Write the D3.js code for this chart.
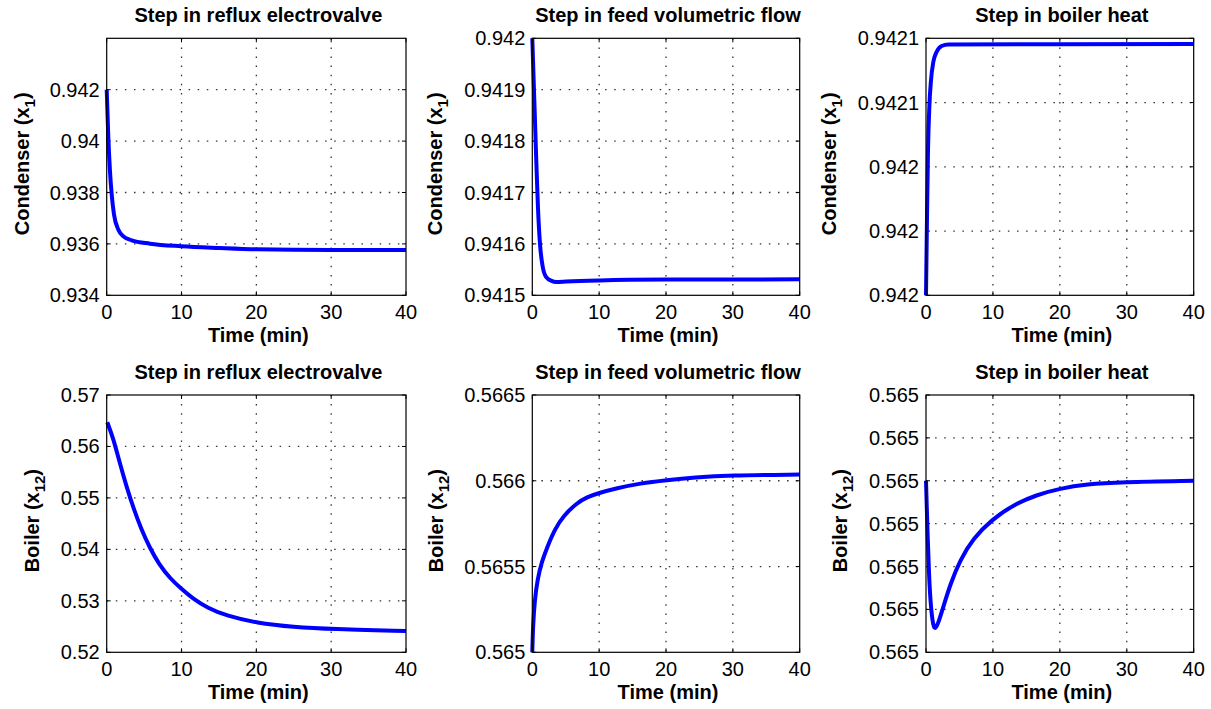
<!DOCTYPE html>
<html><head><meta charset="utf-8">
<script src="https://cdn.jsdelivr.net/npm/d3@7"></script>
<style>body{margin:0;background:#fff}svg{display:block}text{font-family:"Liberation Sans",Arial,Helvetica,sans-serif}</style>
</head><body><svg id="c" width="1211" height="709"></svg>
<script>
// ---- data ----
const titles = ["Step in reflux electrovalve","Step in feed volumetric flow","Step in boiler heat"];
const xTicks = [0,10,20,30,40];

// top row: Condenser x1
const tRefluxX1 = [0,0.22,0.44,0.67,0.98,1.56,2.23,3.34,5.79,10.02,15.1,20,30,40];
const vRefluxX1 = [0.942,0.94012,0.938825,0.937915,0.937136,0.936553,0.936295,0.93614,0.936008,0.935907,0.93584,0.93579,0.93576,0.93576];
const tFeedX1 = [0,0.3,0.6,0.85,1.15,1.55,2.05,2.9,3.6,5.1,10.1,20,40];
const vFeedX1 = [0.942,0.94188,0.94176,0.94167,0.9416,0.941556,0.941536,0.941528,0.941526,0.941527,0.941529,0.9415305,0.941531];
const tHeatX1 = [0,0.15,0.3,0.5,0.75,1.1,1.6,2.34,3.34,40];
const vHeatX1 = [0.942,0.9420245,0.9420452,0.9420587,0.942067,0.9420727,0.9420758,0.9420776,0.9420781,0.9420782];

// bottom row: Boiler x12
const tRefluxX12 = [0.08,0.88,1.78,2.67,3.6,4.6,5.79,7.0,8.5,10,11.45,13.5,16,20,25,30,40];
const vRefluxX12 = [0.5647,0.5616,0.5566,0.5521,0.5479,0.544,0.5402,0.5371,0.5343,0.5323,0.5305,0.5286,0.5271,0.5257,0.5249,0.5245,0.52415];
const tFeedX12 = [0,0.1,0.36,0.8,1.4,2.15,3.4,4.64,6.64,8.2,9.87,12.6,16.1,20.1,24.3,29.3,40];
const vFeedX12 = [0.565,0.565149,0.565305,0.56543,0.565525,0.565606,0.56572,0.565795,0.56587,0.565905,0.565928,0.565956,0.565985,0.566004,0.56602,0.566032,0.566036];
const tHeatX12 = [0,0.2,0.45,0.75,1.1,1.4,1.84,2.59,3.59,5.08,7.07,9.81,13.05,16.5,20,24,29,40];
const vHeatX12 = [0.565,0.5649893,0.5649776,0.5649699,0.564966,0.5649654,0.5649668,0.5649706,0.5649757,0.5649815,0.5649866,0.5649909,0.5649944,0.5649967,0.5649982,0.5649992,0.5649997,0.565];

const yDomains = [[0.934,0.944],[0.9415,0.942],[0.942,0.94208],[0.52,0.57],[0.565,0.5665],[0.56496,0.56502]];
const yTicks = [
  [0.934,0.936,0.938,0.94,0.942],
  [0.9415,0.9416,0.9417,0.9418,0.9419,0.942],
  [0.942,0.94202,0.94204,0.94206,0.94208],
  [0.52,0.53,0.54,0.55,0.56,0.57],
  [0.565,0.5655,0.566,0.5665],
  [0.56496,0.56497,0.56498,0.56499,0.565,0.56501,0.56502]
];
const yLabels = [["Condenser (x","1",")"],["Boiler (x","12",")"]];

// ---- layout ----
const colL = [106.7,532.3,926], colR = [406,799.7,1193.7];
const rowT = [38.3,395], rowB = [295.3,652.3];
const ylabX = [[28.5,442,835.5],[39,442.5,847]];

const panels = [
  {t:tRefluxX1,v:vRefluxX1},{t:tFeedX1,v:vFeedX1},{t:tHeatX1,v:vHeatX1},
  {t:tRefluxX12,v:vRefluxX12},{t:tFeedX12,v:vFeedX12},{t:tHeatX12,v:vHeatX12}
];
const svg = d3.select("#c");
const fmt = d3.format(".4~g");

panels.forEach((p,i)=>{
  const r = Math.floor(i/3), c = i%3;
  const L=colL[c], R=colR[c], T=rowT[r], B=rowB[r];
  const x = d3.scaleLinear().domain([0,40]).range([L,R]);
  const y = d3.scaleLinear().domain(yDomains[i]).range([B,T]);
  const g = svg.append("g");
  const dash = "1.5,7.6";
  // grid
  g.selectAll(".gx").data(xTicks.filter(d=>d>0&&d<40)).join("line")
    .attr("x1",d=>x(d)).attr("x2",d=>x(d)).attr("y1",T).attr("y2",B)
    .attr("stroke","#333").attr("stroke-width",1.3).attr("stroke-dasharray",dash);
  const yt = yTicks[i];
  const ydom = yDomains[i];
  const eps = (ydom[1]-ydom[0])*1e-6;
  g.selectAll(".gy").data(yt.filter(d=>d>ydom[0]+eps&&d<ydom[1]-eps)).join("line")
    .attr("y1",d=>y(d)).attr("y2",d=>y(d)).attr("x1",L).attr("x2",R)
    .attr("stroke","#333").attr("stroke-width",1.3).attr("stroke-dasharray",dash);
  // tick marks inside (4 sides)
  xTicks.forEach(d=>{
    g.append("line").attr("x1",x(d)).attr("x2",x(d)).attr("y1",B).attr("y2",B-4).attr("stroke","#000");
    g.append("line").attr("x1",x(d)).attr("x2",x(d)).attr("y1",T).attr("y2",T+4).attr("stroke","#000");
  });
  yt.forEach(d=>{
    g.append("line").attr("y1",y(d)).attr("y2",y(d)).attr("x1",L).attr("x2",L+4).attr("stroke","#000");
    g.append("line").attr("y1",y(d)).attr("y2",y(d)).attr("x1",R).attr("x2",R-4).attr("stroke","#000");
  });
  // line
  const data = p.t.map((t,k)=>[t,p.v[k]]);
  const curve = r===0 ? d3.curveMonotoneX : d3.curveBasis;
  g.append("path").datum(data)
    .attr("d",d3.line().x(d=>x(d[0])).y(d=>y(d[1])).curve(curve))
    .attr("fill","none").attr("stroke","#0000ff").attr("stroke-width",4).attr("stroke-linejoin","round");
  // box
  g.append("rect").attr("x",L).attr("y",T).attr("width",R-L).attr("height",B-T)
    .attr("fill","none").attr("stroke","#000").attr("stroke-width",1.2);
  // tick labels
  g.selectAll(".xl").data(xTicks).join("text")
    .attr("x",d=>x(d)).attr("y",B+24).attr("text-anchor","middle")
    .attr("font-size",20).text(d=>d);
  g.selectAll(".yl").data(yt).join("text")
    .attr("x",L-7).attr("y",d=>y(d)).attr("text-anchor","end").attr("dominant-baseline","central")
    .attr("font-size",20).text(d=>fmt(d));
  // title
  g.append("text").attr("x",(L+R)/2+2).attr("y",T-16).attr("text-anchor","middle")
    .attr("font-size",20).attr("font-weight","bold").text(titles[c]);
  // xlabel
  g.append("text").attr("x",(L+R)/2+2).attr("y",B+47).attr("text-anchor","middle")
    .attr("font-size",20).attr("font-weight","bold").text("Time (min)");
  // ylabel
  const lab = yLabels[r];
  const yl = g.append("text").attr("transform",`translate(${ylabX[r][c]},${(T+B)/2-3}) rotate(-90)`)
    .attr("text-anchor","middle").attr("font-size",20).attr("font-weight","bold");
  yl.append("tspan").text(lab[0]);
  yl.append("tspan").attr("font-size",15).attr("dy",6).text(lab[1]);
  yl.append("tspan").attr("dy",-6).text(lab[2]);
});
</script></body></html>
